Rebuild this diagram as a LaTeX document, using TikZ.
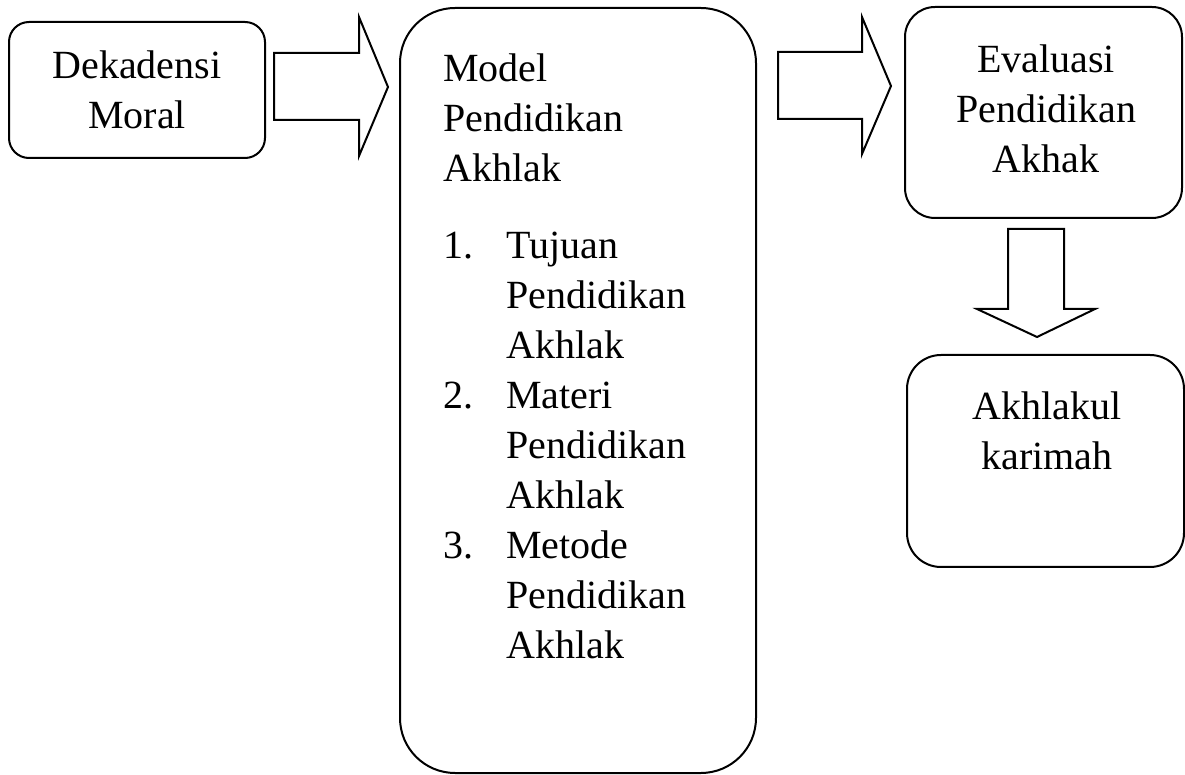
\documentclass[tikz,border=0pt]{standalone}
\usepackage{fontspec}
\setmainfont{Liberation Serif}
\usepackage{tikz}
\usetikzlibrary{calc,positioning}
\tikzset{
  roundbox/.style={
    draw=black,
    line width=1pt,
    rectangle,
    align=center,
    inner sep=0pt,
    font=\fontsize{20pt}{25pt}\selectfont
  },
  boxtext/.style={
    align=center,
    inner sep=0pt,
    font=\fontsize{20pt}{25pt}\selectfont
  },
  blockarrow/.style={draw=black, line width=1pt, line join=miter}
}
\newcommand{\numitem}[1]{\makebox[31.5pt][l]{#1}}
\newcommand{\itemgap}{\hspace*{31.5pt}}

\begin{document}
\begin{tikzpicture}[x=0.5pt,y=-0.5pt]
  \useasboundingbox (0,0) rectangle (1185,775);
  % boxes
  \node[roundbox,rounded corners=10pt,minimum width=128pt,minimum height=68pt] (dekadensi) at (137,90) {Dekadensi\\Moral};
  \node[roundbox,rounded corners=27.5pt,minimum width=178pt,minimum height=382.5pt] (model) at (578,390.5) {};
  \node[boxtext,align=left,anchor=north west] (modeltext) at (443,53)
    {Model\\Pendidikan\\Akhlak\\[13.5pt]
     \numitem{1.}Tujuan\\ \itemgap Pendidikan\\ \itemgap Akhlak\\
     \numitem{2.}Materi\\ \itemgap Pendidikan\\ \itemgap Akhlak\\
     \numitem{3.}Metode\\ \itemgap Pendidikan\\ \itemgap Akhlak};
  \node[roundbox,rounded corners=15pt,minimum width=138.5pt,minimum height=105.5pt] (evaluasi) at (1043.5,112.5) {};
  \node[boxtext] (evaluasitext) at (1046,108.5) {Evaluasi\\Pendidikan\\Akhak};
  \node[roundbox,rounded corners=17pt,minimum width=138.5pt,minimum height=106pt] (karimah) at (1045.5,461) {};
  \node[boxtext] (karimahtext) at (1047,431) {Akhlakul\\karimah};
  % block arrows
  \draw[blockarrow] ($(dekadensi.east)+(8,-37)$) -- ++(85,0) -- ++(0,-36) -- ++(29,70)
    -- ++(-29,69) -- ++(0,-36) -- ++(-85,0) -- cycle;
  \draw[blockarrow] ($(model.north east)+(21,45)$) -- ++(84,0) -- ++(0,-35) -- ++(29,69)
    -- ++(-29,68) -- ++(0,-35) -- ++(-84,0) -- cycle;
  \draw[blockarrow] ($(evaluasi.south)+(-35.5,10)$) -- ++(56,0) -- ++(0,80) -- ++(31,0)
    -- ++(-58,28) -- ++(-60,-28) -- ++(31,0) -- cycle;
\end{tikzpicture}
\end{document}
